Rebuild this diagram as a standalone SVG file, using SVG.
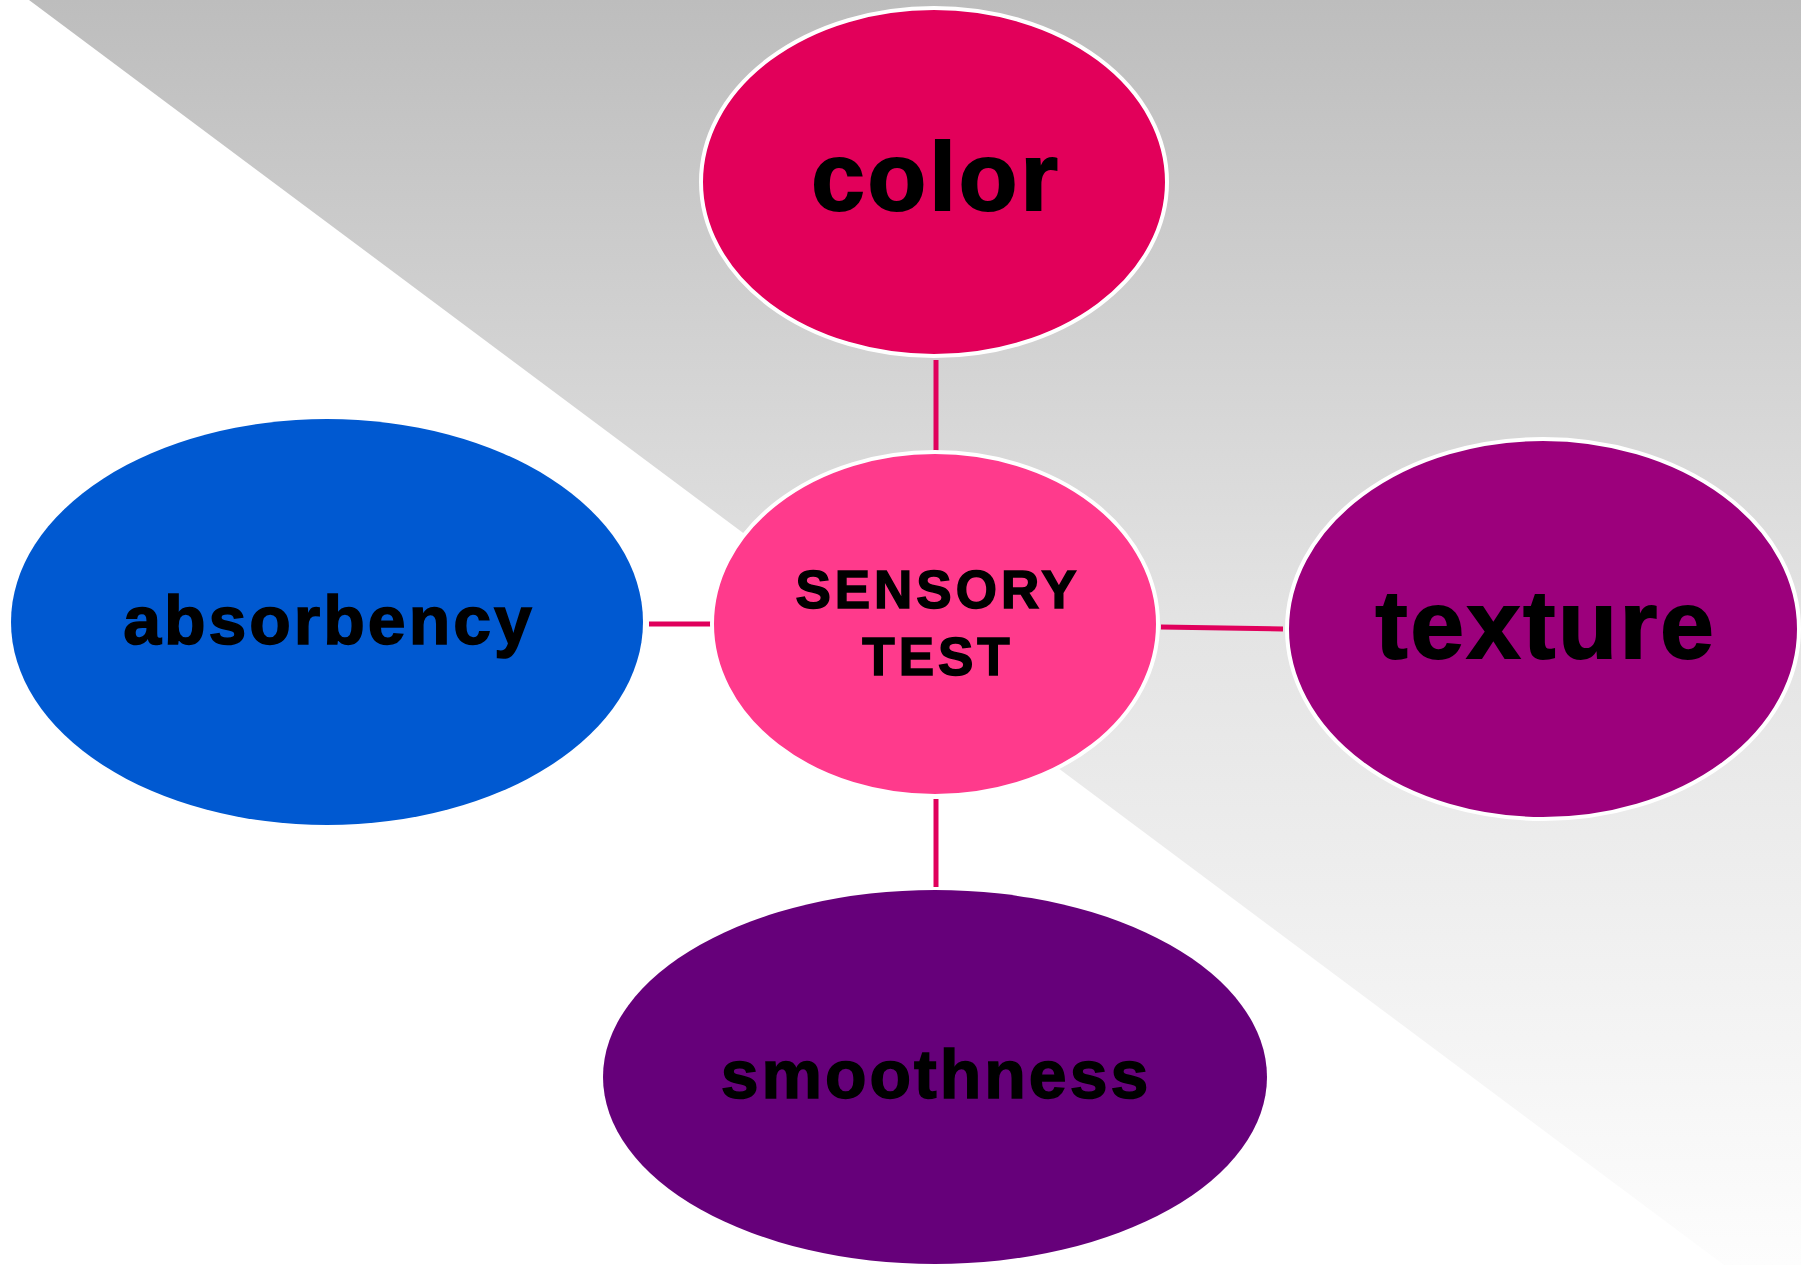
<svg xmlns="http://www.w3.org/2000/svg" width="1801" height="1265" viewBox="0 0 1801 1265">
  <defs>
    <linearGradient id="bgGrad" x1="0" y1="0" x2="0" y2="1">
      <stop offset="0" stop-color="#bdbdbd"/>
      <stop offset="0.5" stop-color="#e4e4e4"/>
      <stop offset="1" stop-color="#fdfdfd"/>
    </linearGradient>
    <style>
      .node { stroke: #ffffff; stroke-width: 4; }
      .label { font-family: "Liberation Sans", Arial, sans-serif; font-weight: bold; fill: #000000; stroke: #000000; text-anchor: middle; }
      .link { stroke: #e0005c; stroke-width: 5; fill: none; }
    </style>
  </defs>

  <!-- background: white page with a grey gradient wedge -->
  <rect x="0" y="0" width="1801" height="1265" fill="#ffffff"/>
  <polygon points="29,0 1801,0 1801,1265 1724,1265" fill="url(#bgGrad)"/>

  <!-- connectors -->
  <g id="connectors">
    <line class="link" x1="936" y1="360" x2="936" y2="451"/>
    <line class="link" x1="936" y1="799" x2="936" y2="887"/>
    <line class="link" x1="649" y1="624" x2="712" y2="624"/>
    <line class="link" x1="1161" y1="627" x2="1283" y2="629"/>
  </g>

  <g id="node-color">
    <ellipse class="node" cx="934" cy="182" rx="233" ry="174" fill="#e2005a"/>
    <text class="label" x="936" y="210" font-size="96" letter-spacing="3" stroke-width="2">color</text>
  </g>

  <g id="node-sensory-test">
    <ellipse class="node" cx="935" cy="624" rx="223" ry="172" fill="#ff3a8c"/>
    <text class="label" x="938" y="608" font-size="53" letter-spacing="4" stroke-width="1.5">SENSORY</text>
    <text class="label" x="938" y="675" font-size="53" letter-spacing="4" stroke-width="1.5">TEST</text>
  </g>

  <g id="node-absorbency">
    <ellipse cx="327" cy="622" rx="316" ry="203" fill="#0059d1"/>
    <text class="label" x="329" y="644" font-size="68" letter-spacing="3" stroke-width="1.5">absorbency</text>
  </g>

  <g id="node-texture">
    <ellipse class="node" cx="1543" cy="629" rx="256" ry="190" fill="#9c007c"/>
    <text class="label" x="1546" y="658" font-size="96" letter-spacing="3" stroke-width="2">texture</text>
  </g>

  <g id="node-smoothness">
    <ellipse cx="935" cy="1077" rx="332" ry="187" fill="#66007a"/>
    <text class="label" x="936" y="1098" font-size="68" letter-spacing="3" stroke-width="1.5">smoothness</text>
  </g>
</svg>
